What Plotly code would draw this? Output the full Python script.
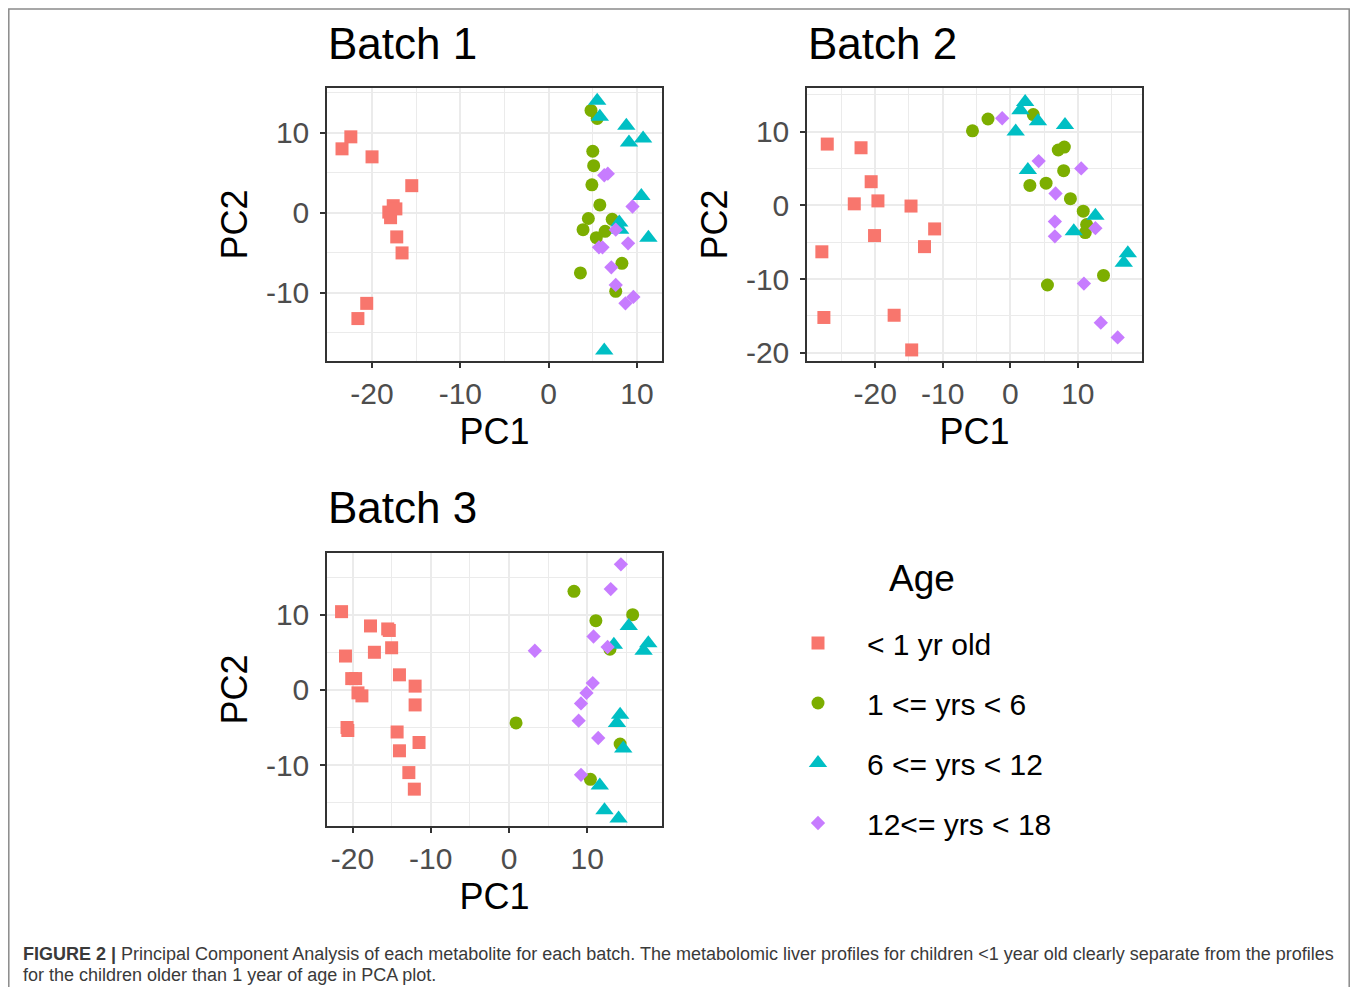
import plotly.graph_objects as go

# The page body adds an 8px margin on every side; the figure is sized so the
# page is exactly the 1358x995 window, and reference pixel positions are
# shifted by OX/OY.
OX, OY = 8, 8
W, H = 1358 - 2 * OX, 995 - 2 * OY

# ---------------- data ----------------
groups = ["< 1 yr old", "1 <= yrs < 6", "6 <= yrs < 12", "12<= yrs < 18"]
colors = ["#F8766D", "#7CAE00", "#00BFC4", "#C77CFF"]
symbols = ["square", "circle", "triangle-up", "diamond"]
sizes = [13, 13, 16, 11]

# Batch 1
b1_lt1_x = [-22.4, -23.4, -20.0, -15.5, -17.6, -18.1, -17.9, -17.3, -17.2, -16.6, -20.6, -21.6]
b1_lt1_y = [9.5, 8.0, 7.0, 3.4, 0.9, 0.1, -0.6, 0.5, -3.0, -5.0, -11.3, -13.2]
b1_1to6_x = [4.8, 5.5, 5.0, 5.1, 4.9, 5.8, 4.5, 3.9, 7.2, 6.4, 5.4, 8.3, 3.6, 7.6]
b1_1to6_y = [12.8, 11.8, 7.7, 5.9, 3.5, 1.0, -0.7, -2.1, -0.8, -2.3, -3.1, -6.3, -7.5, -9.8]
b1_6to12_x = [5.5, 5.8, 8.8, 9.1, 10.7, 10.5, 8.0, 8.1, 11.3, 6.3]
b1_6to12_y = [14.0, 12.0, 10.9, 8.8, 9.3, 2.1, -1.2, -2.1, -3.1, -17.2]
b1_12to18_x = [6.3, 6.7, 9.5, 7.6, 9.0, 5.7, 6.1, 7.1, 7.6, 8.7, 9.6]
b1_12to18_y = [4.7, 4.9, 0.8, -2.1, -3.8, -4.3, -4.3, -6.8, -9.0, -11.3, -10.5]

# Batch 2
b2_lt1_x = [-27.1, -22.1, -20.6, -23.1, -19.6, -14.7, -11.2, -20.1, -12.7, -27.9, -27.6, -17.2, -14.6]
b2_lt1_y = [8.3, 7.8, 3.2, 0.2, 0.6, -0.1, -3.2, -4.1, -5.6, -6.3, -15.2, -14.9, -19.6]
b2_1to6_x = [-5.6, -3.3, 3.4, 7.1, 8.0, 7.9, 2.9, 5.3, 8.9, 10.8, 11.3, 11.1, 13.8, 5.5]
b2_1to6_y = [10.1, 11.7, 12.3, 7.5, 7.9, 4.7, 2.7, 3.0, 0.9, -0.8, -2.6, -3.7, -9.5, -10.8]
b2_6to12_x = [2.2, 1.5, 4.1, 0.8, 8.1, 2.6, 12.6, 9.4, 17.4, 16.8]
b2_6to12_y = [14.0, 12.9, 11.4, 10.0, 10.9, 4.8, -1.4, -3.5, -6.5, -7.8]
b2_12to18_x = [-1.2, 4.2, 10.5, 6.7, 6.6, 6.6, 12.6, 10.9, 13.4, 15.9]
b2_12to18_y = [11.8, 6.0, 5.0, 1.6, -2.2, -4.2, -3.1, -10.6, -15.9, -17.9]

# Batch 3
b3_lt1_x = [-21.4, -17.7, -15.5, -15.3, -15.0, -17.2, -20.9, -14.0, -20.1, -19.6, -12.0,
            -19.3, -18.8, -12.0, -20.7, -20.6, -14.3, -11.5, -14.0, -12.8, -12.1]
b3_lt1_y = [10.4, 8.5, 8.1, 7.9, 5.6, 5.0, 4.5, 2.0, 1.5, 1.5, 0.5,
            -0.4, -0.8, -2.0, -5.0, -5.4, -5.6, -7.0, -8.1, -11.0, -13.2]
b3_1to6_x = [8.3, 11.1, 15.8, 12.9, 0.9, 14.2, 10.4]
b3_1to6_y = [13.1, 9.2, 10.0, 5.4, -4.4, -7.2, -11.9]
b3_6to12_x = [15.3, 13.4, 17.8, 17.2, 14.2, 13.8, 14.6, 11.6, 12.2, 14.0]
b3_6to12_y = [8.5, 6.0, 6.2, 5.2, -3.3, -4.4, -7.8, -12.7, -16.0, -17.1]
b3_12to18_x = [14.3, 13.0, 10.8, 12.6, 3.3, 10.7, 9.9, 9.2, 8.9, 11.4, 9.2]
b3_12to18_y = [16.7, 13.4, 7.1, 5.7, 5.2, 0.9, -0.4, -1.8, -4.1, -6.4, -11.3]

batch_titles = ["Batch 1", "Batch 2", "Batch 3"]
x_ticks = [[-20, -10, 0, 10], [-20, -10, 0, 10], [-20, -10, 0, 10]]
y_ticks = [[-10, 0, 10], [-20, -10, 0, 10], [-10, 0, 10]]
x_minor = [[-25, -15, -5, 5], [-25, -15, -5, 5, 15], [-15, -5, 5, 15]]
y_minor = [[-15, -5, 5, 15], [-15, -5, 5, 15], [-15, -5, 5, 15]]
x_ranges = [[-25.1, 12.84], [-30.1, 19.5], [-23.26, 19.55]]
y_ranges = [[-18.5, 15.6], [-21.1, 15.9], [-18.1, 18.2]]

batches = [
    [(b1_lt1_x, b1_lt1_y), (b1_1to6_x, b1_1to6_y), (b1_6to12_x, b1_6to12_y), (b1_12to18_x, b1_12to18_y)],
    [(b2_lt1_x, b2_lt1_y), (b2_1to6_x, b2_1to6_y), (b2_6to12_x, b2_6to12_y), (b2_12to18_x, b2_12to18_y)],
    [(b3_lt1_x, b3_lt1_y), (b3_1to6_x, b3_1to6_y), (b3_6to12_x, b3_6to12_y), (b3_12to18_x, b3_12to18_y)],
]

# panel pixel boxes in the reference (left, top, right, bottom)
boxes = [(327, 88, 662, 361), (807, 88, 1142, 361), (327, 553, 662, 826)]

FONT = "Liberation Sans, Arial, sans-serif"


def px(x):
    return (x - OX) / W


def py(y):
    return 1 - (y - OY) / H


def tick_text(vals):
    return [str(v) for v in vals]  # ASCII hyphen-minus, as in the reference


fig = go.Figure()

for bi, batch in enumerate(batches):
    ax = "" if bi == 0 else str(bi + 1)
    for gi, (xs, ys) in enumerate(batch):
        fig.add_trace(go.Scatter(
            x=xs, y=ys, mode="markers", name=groups[gi],
            legendgroup=groups[gi], showlegend=(bi == 0),
            marker=dict(color=colors[gi], symbol=symbols[gi], size=sizes[gi], line=dict(width=0)),
            xaxis="x" + ax, yaxis="y" + ax,
        ))

layout = dict(
    width=W, height=H, autosize=False,
    margin=dict(l=0, r=0, t=0, b=0, pad=0, autoexpand=False),
    paper_bgcolor="white", plot_bgcolor="white",
    font=dict(family=FONT, color="black"),
    legend=dict(
        x=px(769), y=py(617), xanchor="left", yanchor="top",
        font=dict(size=30, family=FONT, color="black"),
        itemwidth=88, tracegroupgap=18, bgcolor="rgba(0,0,0,0)",
    ),
    annotations=[], shapes=[],
)

grid = "#EBEBEB"
for bi in range(3):
    ax = "" if bi == 0 else str(bi + 1)
    l, t, r, b = boxes[bi]
    common = dict(
        automargin=False,
        showgrid=True, gridcolor=grid, gridwidth=1.6,
        zeroline=False, showline=True, mirror=True, linecolor="#333333", linewidth=1.5,
        ticks="outside", ticklen=5, tickwidth=1.5, tickcolor="#333333",
        tickfont=dict(size=30, color="#4D4D4D", family=FONT),
        tickmode="array",
    )
    xa = dict(common, domain=[px(l), px(r)], range=x_ranges[bi],
              tickvals=x_ticks[bi], ticktext=tick_text(x_ticks[bi]),
              anchor="y" + ax,
              title=dict(text="PC1", font=dict(size=36, color="black", family=FONT), standoff=10),
              minor=dict(tickmode="array", tickvals=x_minor[bi], showgrid=True,
                         gridcolor=grid, gridwidth=0.9, ticks=""))
    ya = dict(common, domain=[py(b), py(t)], range=y_ranges[bi],
              tickvals=y_ticks[bi], ticktext=tick_text(y_ticks[bi]),
              anchor="x" + ax, ticklabelstandoff=5,
              title=dict(text="PC2", font=dict(size=36, color="black", family=FONT), standoff=7),
              minor=dict(tickmode="array", tickvals=y_minor[bi], showgrid=True,
                         gridcolor=grid, gridwidth=0.9, ticks=""))
    layout["xaxis" + ax] = xa
    layout["yaxis" + ax] = ya
    layout["annotations"].append(dict(
        text=batch_titles[bi], x=px(l - 1), y=py(t - 45), xref="paper", yref="paper",
        xanchor="left", yanchor="middle", showarrow=False,
        font=dict(size=44, color="black", family=FONT),
    ))

# legend title
layout["annotations"].append(dict(
    text="Age", x=px(887), y=py(578), xref="paper", yref="paper",
    xanchor="left", yanchor="middle", showarrow=False,
    font=dict(size=37, color="black", family=FONT),
))

# caption
layout["annotations"].append(dict(
    text="<b>FIGURE 2 |</b> Principal Component Analysis of each metabolite for each batch. "
         "The metabolomic liver profiles for children &lt;1 year old clearly separate from the profiles",
    x=px(21), y=py(954), xref="paper", yref="paper", xanchor="left", yanchor="middle",
    showarrow=False, font=dict(size=18, color="#3a3a3a", family=FONT),
))
layout["annotations"].append(dict(
    text="for the children older than 1 year of age in PCA plot.",
    x=px(21), y=py(975), xref="paper", yref="paper", xanchor="left", yanchor="middle",
    showarrow=False, font=dict(size=18, color="#3a3a3a", family=FONT),
))

# outer frame (right edge kept inside the figure)
layout["shapes"].append(dict(
    type="rect", xref="paper", yref="paper",
    x0=px(8.8), x1=px(1349.2), y0=-0.02, y1=py(9),
    line=dict(color="#8a8a8a", width=1.5), fillcolor="rgba(0,0,0,0)",
))

fig.update_layout(**layout)
fig.write_html("out.html")
